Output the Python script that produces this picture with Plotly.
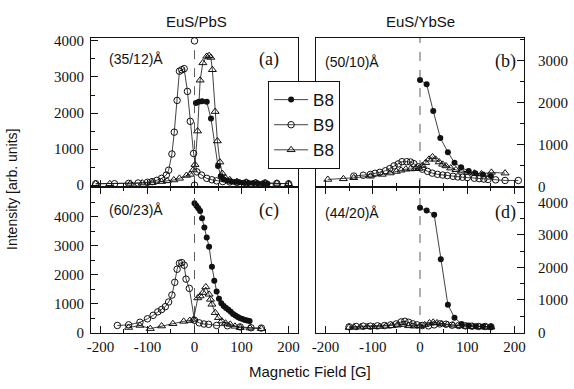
import plotly.graph_objects as go

# ---------------- data ----------------
# Panel (a) EuS/PbS (35/12)A
a_b8f_x = [3, 9, 16, 26, 35, 50, 56, 62, 70, 78, 86, 95, 105, 115, 125, 135, 145, 155]
a_b8f_y = [2280, 2310, 2330, 2310, 1850, 530, 250, 160, 120, 100, 90, 80, 70, 60, 60, 50, 50, 40]
a_b9_x = [-210, -170, -140, -120, -100, -90, -80, -70, -60, -55, -48, -43, -37, -32, -27, -22, -15, -9, -2,
          5, 15, 26, 37, 47, 60, 75, 90, 110, 130, 150, 175, 200]
a_b9_y = [40, 40, 50, 60, 80, 100, 135, 190, 280, 415, 865, 1470, 2350, 3160, 3200, 3230, 2600, 1770, 880,
          370, 280, 190, 150, 120, 100, 90, 80, 70, 60, 60, 50, 40]
a_b8o_x = [-210, -180, -136, -111, -90, -70, -58, -44, -32, -17, -9, -3, 1, 6.5, 12, 17.7, 26, 31, 34.7, 38,
           43.8, 48.6, 54, 59, 65, 75, 90, 110, 130, 150, 175, 200]
a_b8o_y = [40, 40, 50, 60, 70, 100, 120, 145, 190, 270, 300, 420, 570, 1500, 2910, 3390, 3570, 3590, 3540, 3200,
           2040, 1225, 640, 325, 210, 150, 100, 80, 70, 60, 50, 40]
a_dash_y = [0, 4000]

# Panel (b) EuS/YbSe (50/10)A
b_b8f_x = [0, 14, 28, 43, 59, 73, 87, 103, 117, 133, 150]
b_b8f_y = [2540, 2440, 1800, 1160, 820, 570, 460, 370, 320, 290, 250]
b_b9_x = [-140, -120, -105, -95, -85, -73, -64, -55, -46, -38, -28, -20, -13, -4, 5, 16, 26, 37, 48, 58,
          70, 80, 90, 100, 115, 125, 135, 144, 160, 180, 208]
b_b9_y = [250, 270, 290, 316, 340, 377, 430, 492, 540, 593, 593, 585, 546, 469, 415, 362, 320, 292, 275, 262,
          245, 230, 223, 215, 200, 190, 180, 169, 160, 146, 146]
b_b8o_x = [-195, -162, -140, -105, -80, -63, -50, -40, -30, -20, -10, -2, 5, 12, 19, 26.5, 33, 40.6, 48, 55,
           65, 76, 88, 101, 115, 130, 151, 180]
b_b8o_y = [170, 185, 210, 247, 290, 323, 360, 390, 415, 420, 425, 431, 500, 570, 650, 708, 650, 585, 530, 492,
           440, 400, 370, 339, 320, 300, 339, 320]

# Panel (c) EuS/PbS (60/23)A
c_b8f_x = [0, 4, 8, 12, 16, 21, 26, 31, 37, 42, 47, 52, 57, 62, 67, 72, 77, 82, 87, 92, 97, 102, 107, 112, 117]
c_b8f_y = [4470, 4380, 4300, 4200, 3950, 3630, 3290, 2970, 2280, 1790, 1420, 1170, 1020, 920, 850, 790, 720,
           650, 590, 540, 500, 470, 440, 420, 400]
c_b9_x = [-164, -140, -116, -100, -88, -78, -70, -62, -55, -48, -42, -37, -32, -27, -22, -18, -11, 0,
          10, 20, 30, 47, 70, 97, 120, 142]
c_b9_y = [250, 270, 360, 480, 600, 720, 800, 900, 1060, 1300, 1740, 2190, 2400, 2420, 2330, 1850, 1530, 430,
          340, 300, 290, 250, 240, 200, 170, 160]
c_b8o_x = [-140, -116, -94, -70, -46, -23, -10, -2, 7, 12, 18, 24, 31, 34, 37, 44, 51, 58, 66, 76, 86, 97, 118, 142]
c_b8o_y = [180, 250, 140, 230, 311, 391, 420, 460, 1200, 1266, 1384, 1580, 1326, 1150, 980, 692, 519, 403,
           330, 288, 220, 173, 160, 140]

# Panel (d) EuS/YbSe (44/20)A
d_b8f_x = [0, 14, 30, 44, 59, 73, 88, 103, 118, 133, 150]
d_b8f_y = [3830, 3750, 3620, 2250, 850, 450, 260, 210, 190, 180, 170]
d_b9_x = [-150, -135, -120, -105, -90, -75, -62, -50, -40, -32, -24, -15, -6, 5, 18, 30, 42, 55, 68, 82,
          96, 110, 124, 138, 150]
d_b9_y = [170, 180, 190, 190, 200, 210, 230, 260, 320, 340, 310, 260, 230, 210, 200, 230, 260, 250, 220, 210,
          200, 190, 180, 180, 170]
d_b8o_x = [-150, -140, -126, -112, -98, -85, -72, -60, -48, -36, -24, -12, 0, 10, 20, 28, 36, 46, 58, 70,
           84, 98, 112, 126, 140, 150]
d_b8o_y = [150, 160, 160, 170, 170, 180, 190, 200, 220, 240, 200, 190, 200, 230, 290, 310, 290, 260, 240, 220,
           200, 180, 170, 170, 160, 160]

series_names = ["B8", "B9", "B8"]
x_tick_vals = [-200, -100, 0, 100, 200]
x_tick_text = ["-200", "-100", "0", "100", "200"]
y_ticks_a = [0, 1000, 2000, 3000, 4000]
y_ticks_b = [0, 1000, 2000, 3000]
y_ticks_c = [0, 1000, 2000, 3000, 4000]
y_ticks_d = [0, 1000, 2000, 3000, 4000]
panel_tags = ["(a)", "(b)", "(c)", "(d)"]
sample_tags = ["(35/12)Å", "(50/10)Å", "(60/23)Å", "(44/20)Å"]
col_titles = ["EuS/PbS", "EuS/YbSe"]

# ---------------- figure ----------------
SANS = "Liberation Sans"
SERIF = "Liberation Serif"
LC = "#111111"

fig = go.Figure()

panels = [
    ("x", "y", a_b8f_x, a_b8f_y, a_b9_x, a_b9_y, a_b8o_x, a_b8o_y),
    ("x2", "y2", b_b8f_x, b_b8f_y, b_b9_x, b_b9_y, b_b8o_x, b_b8o_y),
    ("x3", "y3", c_b8f_x, c_b8f_y, c_b9_x, c_b9_y, c_b8o_x, c_b8o_y),
    ("x4", "y4", d_b8f_x, d_b8f_y, d_b9_x, d_b9_y, d_b8o_x, d_b8o_y),
]

for i, (xa, ya, fx, fy, cx, cy, tx, ty) in enumerate(panels):
    show = (i == 0)
    fig.add_trace(go.Scatter(x=tx, y=ty, xaxis=xa, yaxis=ya, mode="lines+markers", name=series_names[2],
                             showlegend=show, legendrank=3,
                             line=dict(color=LC, width=0.8),
                             marker=dict(symbol="triangle-up-open", size=7, color=LC, line=dict(width=1, color=LC))))
    fig.add_trace(go.Scatter(x=cx, y=cy, xaxis=xa, yaxis=ya, mode="lines+markers", name=series_names[1],
                             showlegend=show, legendrank=2,
                             line=dict(color=LC, width=0.8),
                             marker=dict(symbol="circle-open", size=6.5, color=LC, line=dict(width=1, color=LC))))
    fig.add_trace(go.Scatter(x=fx, y=fy, xaxis=xa, yaxis=ya, mode="lines+markers", name=series_names[0],
                             showlegend=show, legendrank=1,
                             line=dict(color=LC, width=0.8),
                             marker=dict(symbol="circle", size=6, color=LC)))

# dashed zero-field line with end circles in (a)
fig.add_trace(go.Scatter(x=[0, 0], y=a_dash_y, xaxis="x", yaxis="y", mode="lines+markers", showlegend=False,
                         line=dict(color="#333", width=0.8, dash="dash"),
                         marker=dict(symbol="circle-open", size=6.5, color=LC, line=dict(width=1, color=LC))))
for xa, ya in [("x2", "y2"), ("x3", "y3"), ("x4", "y4")]:
    fig.add_shape(type="line", xref=xa, yref=ya + " domain", x0=0, x1=0, y0=0, y1=1,
                  line=dict(color="#333", width=0.8, dash="dash"))

xl = [0, 0.4781]
xr = [0.5196, 1]
yt = [0.4949, 1]
yb = [0, 0.4949]


def xaxis(dom, anchor, mirror_ticks):
    return dict(domain=dom, anchor=anchor, range=[-220, 220], tickmode="array", tickvals=x_tick_vals,
                ticktext=x_tick_text, ticks="inside", ticklen=7, tickwidth=1, tickcolor=LC,
                showline=True, linecolor=LC, linewidth=1.2, mirror=("ticks" if mirror_ticks else True),
                showgrid=False, zeroline=False, showticklabels=mirror_ticks, automargin=False,
                tickfont=dict(family=SERIF, size=15, color=LC),
                minor=dict(ticks="inside", ticklen=4, dtick=50, tickcolor=LC, tickwidth=1))


def yaxis(dom, anchor, rng, tv, side):
    return dict(domain=dom, anchor=anchor, range=rng, tickmode="array", tickvals=tv, side=side,
                ticks="inside", ticklen=7, tickwidth=1, tickcolor=LC,
                showline=True, linecolor=LC, linewidth=1.2, mirror=True, automargin=False,
                showgrid=False, zeroline=False,
                ticklabelstandoff=(10 if side == "right" else 3),
                tickfont=dict(family=SERIF, size=15, color=LC),
                minor=dict(ticks="inside", ticklen=4, dtick=500, tickcolor=LC, tickwidth=1))


fig.update_layout(
    width=574, height=389,
    margin=dict(l=91, r=50, t=38, b=56),
    font=dict(family=SERIF, color=LC),
    paper_bgcolor="white", plot_bgcolor="white",
    xaxis=xaxis(xl, "y", False),
    yaxis=yaxis(yt, "x", [-50, 4080], y_ticks_a, "left"),
    xaxis2=xaxis(xr, "y2", False),
    yaxis2=yaxis(yt, "x2", [-10, 3540], y_ticks_b, "right"),
    xaxis3=xaxis(xl, "y3", True),
    yaxis3=yaxis(yb, "x3", [-10, 5030], y_ticks_c, "left"),
    xaxis4=xaxis(xr, "y4", True),
    yaxis4=yaxis(yb, "x4", [-20, 4470], y_ticks_d, "right"),
    showlegend=True,
    legend=dict(x=0.409, y=0.854, xanchor="left", yanchor="top", bgcolor="white",
                bordercolor=LC, borderwidth=1, font=dict(family=SANS, size=17, color=LC),
                tracegroupgap=0, itemwidth=34),
)

ann = []
tag_pos = [("x", "y", 0.077, 0.859, 0.86), ("x2", "y2", 0.034, 0.839, 0.909),
           ("x3", "y3", 0.077, 0.842, 0.86), ("x4", "y4", 0.034, 0.822, 0.909)]
for i, (xa, ya, sx, sy, tx) in enumerate(tag_pos):
    ann.append(dict(text=sample_tags[i], xref=xa + " domain", yref=ya + " domain", x=sx, y=sy,
                    xanchor="left", yanchor="middle", showarrow=False,
                    font=dict(family=SANS, size=14, color=LC)))
    ann.append(dict(text=panel_tags[i], xref=xa + " domain", yref=ya + " domain", x=tx, y=sy,
                    xanchor="center", yanchor="middle", showarrow=False,
                    font=dict(family=SERIF, size=18, color=LC)))
ann.append(dict(text=col_titles[0], xref="paper", yref="paper", x=0.2425, y=1.0576, xanchor="center",
                yanchor="middle", showarrow=False, font=dict(family=SANS, size=15, color=LC)))
ann.append(dict(text=col_titles[1], xref="paper", yref="paper", x=0.76, y=1.0576, xanchor="center",
                yanchor="middle", showarrow=False, font=dict(family=SANS, size=15, color=LC)))
ann.append(dict(text="Intensity [arb. units]", xref="paper", yref="paper", x=-0.1824, y=0.485,
                xanchor="center", yanchor="middle", textangle=-90, showarrow=False,
                font=dict(family=SANS, size=14, color=LC)))
ann.append(dict(text="Magnetic Field [G]", xref="paper", yref="paper", x=0.5058, y=-0.132,
                xanchor="center", yanchor="middle", showarrow=False,
                font=dict(family=SANS, size=15, color=LC)))
fig.update_layout(annotations=ann)

# remove the default 8px page margin so the figure fills the 574x389 window exactly
fig.write_html("out.html", config={"displayModeBar": False},
               post_script="document.body.style.margin='0';document.body.style.overflow='hidden';")
